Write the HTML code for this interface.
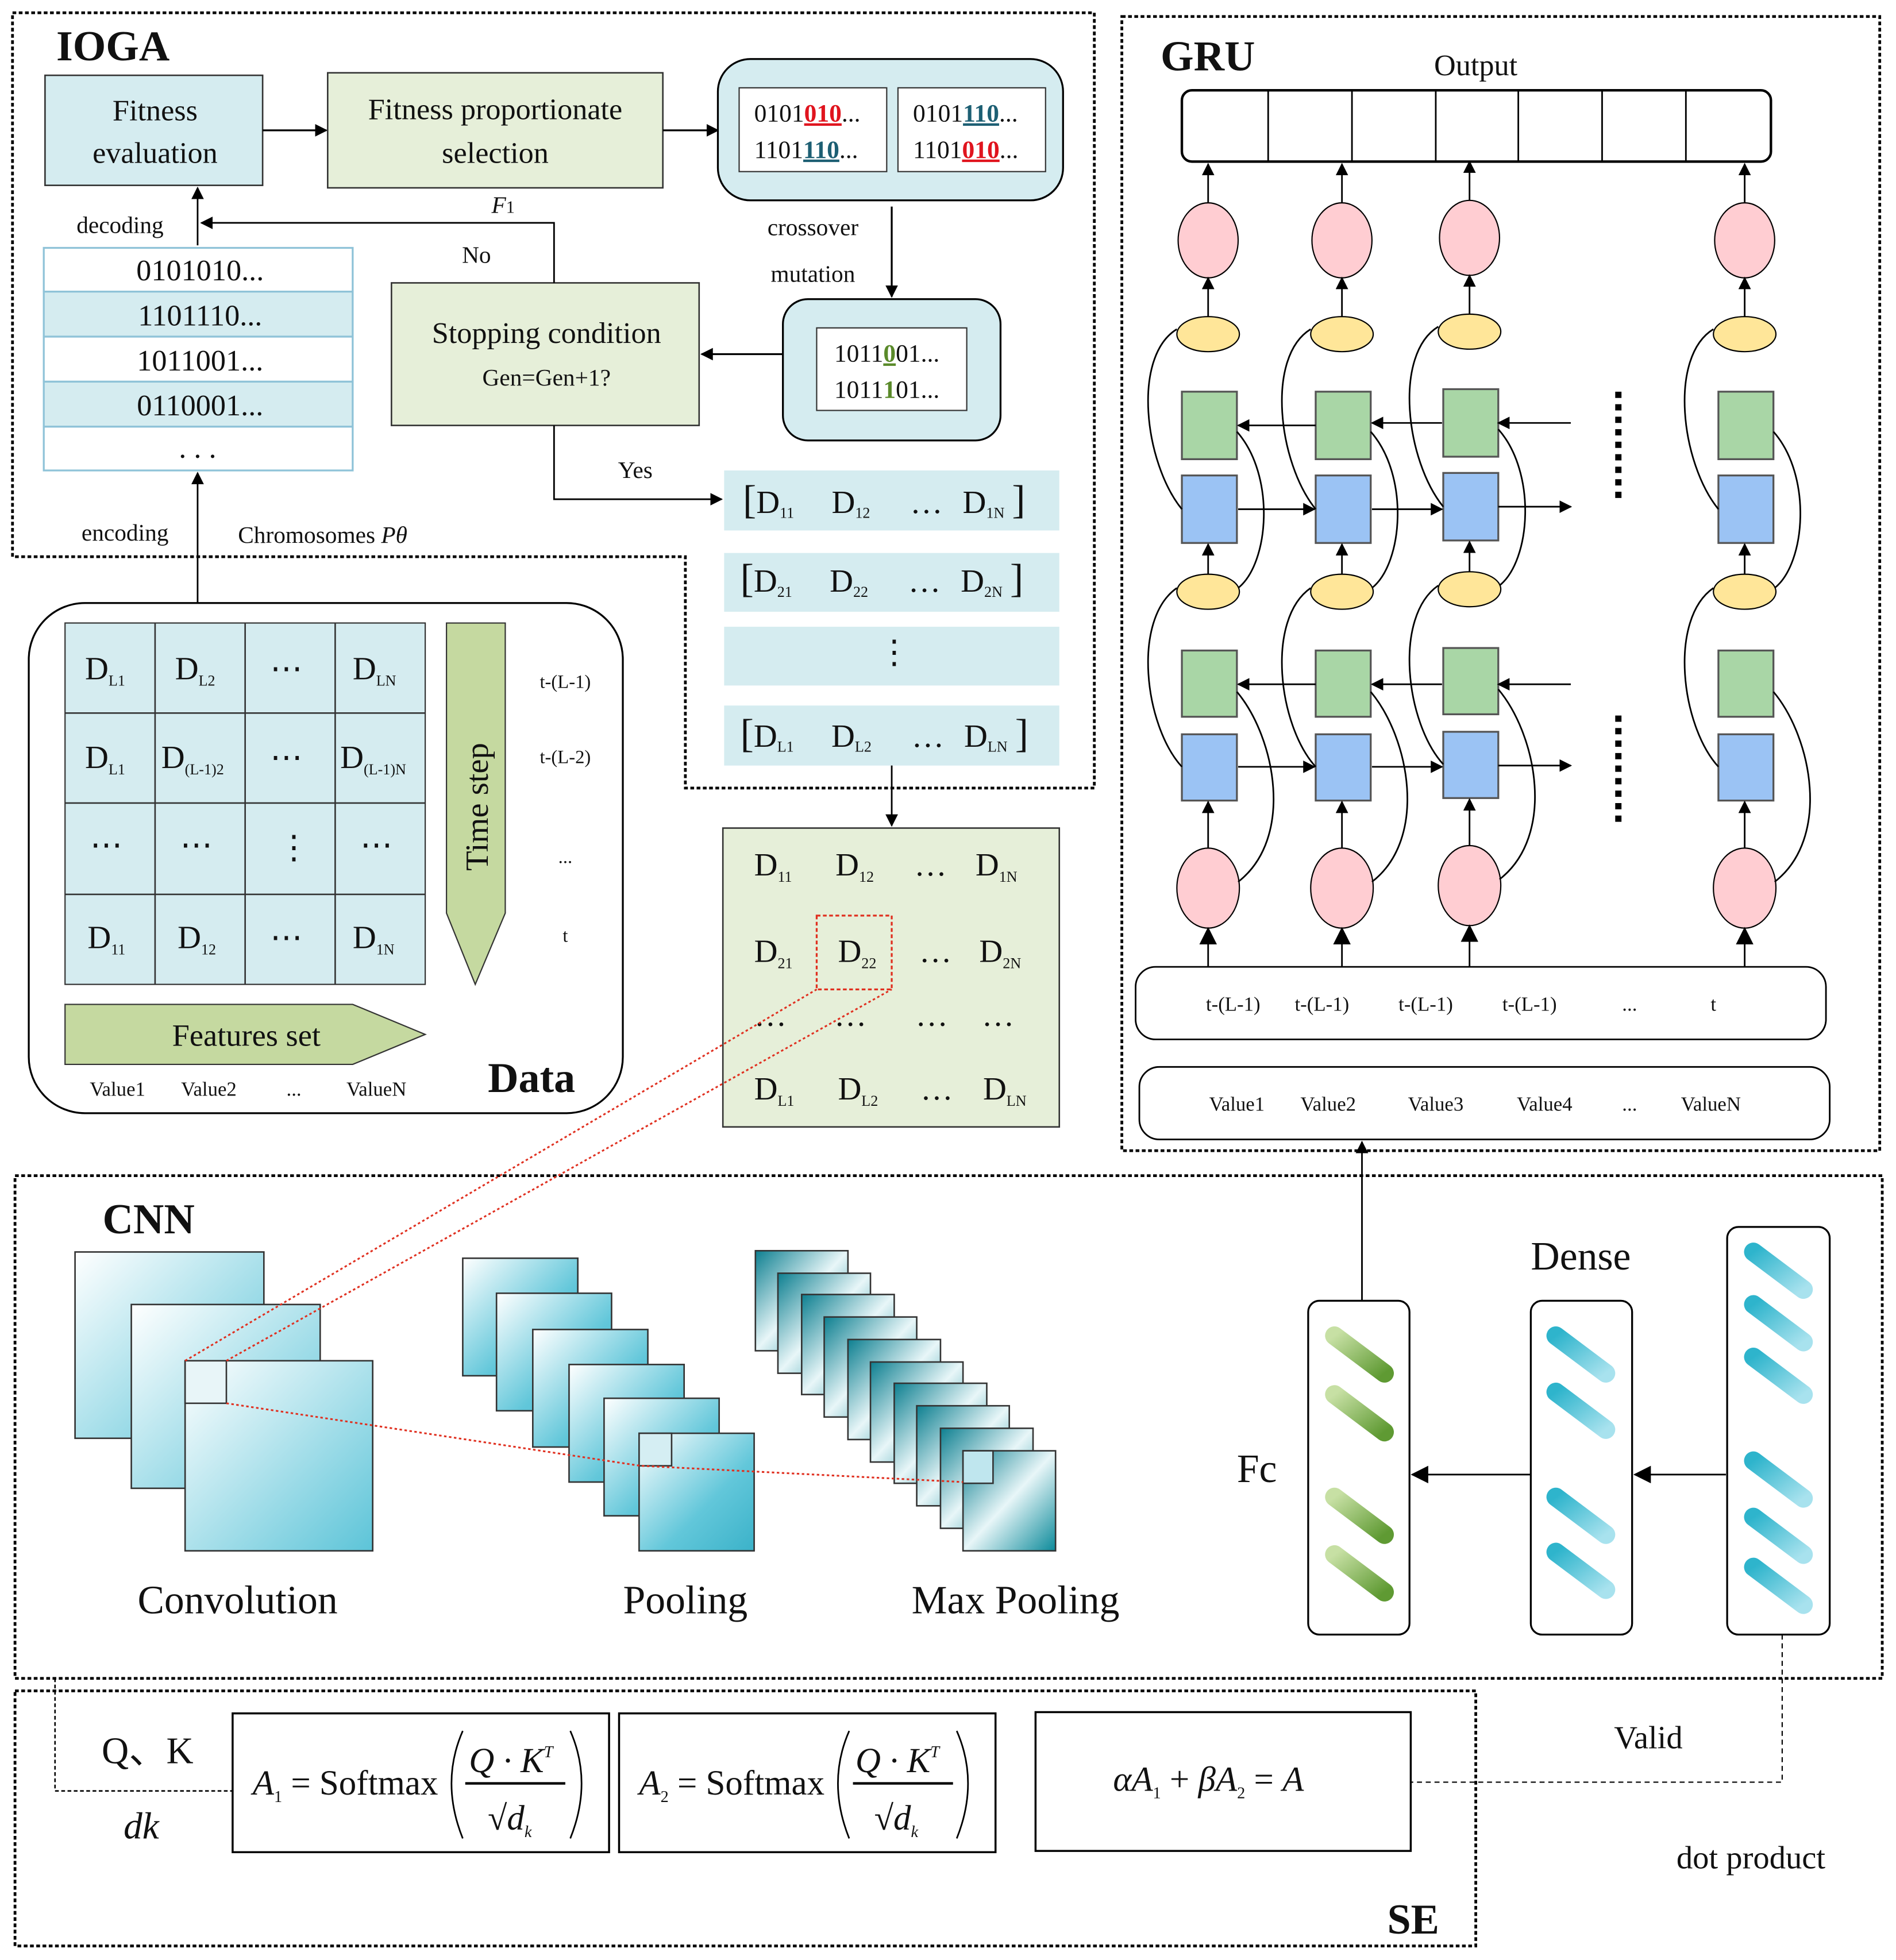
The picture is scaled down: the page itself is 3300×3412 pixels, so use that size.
<!DOCTYPE html>
<html><head><meta charset="utf-8"><style>
html,body{margin:0;padding:0;background:#fff;}
svg{display:block;}
text{font-family:"Liberation Serif",serif;fill:#111;}
</style></head><body>
<svg width="3300" height="3412" viewBox="0 0 1516 1567" xmlns="http://www.w3.org/2000/svg">
<defs>
<marker id="ar" markerWidth="10" markerHeight="10" refX="9" refY="5" orient="auto" markerUnits="userSpaceOnUse"><path d="M0,0 L10,5 L0,10 Z" fill="#000"/></marker>
<marker id="arB" markerWidth="14" markerHeight="14" refX="13" refY="7" orient="auto" markerUnits="userSpaceOnUse"><path d="M0,0 L14,7 L0,14 Z" fill="#000"/></marker>
<linearGradient id="gc" x1="0" y1="0" x2="1" y2="1"><stop offset="0" stop-color="#fff"/><stop offset="1" stop-color="#5cc4d8"/></linearGradient>
<linearGradient id="gp" x1="0" y1="0" x2="1" y2="1"><stop offset="0" stop-color="#fff"/><stop offset="0.6" stop-color="#62c7da"/><stop offset="1" stop-color="#3bb2c9"/></linearGradient>
<linearGradient id="gm" x1="0" y1="0" x2="1" y2="1"><stop offset="0" stop-color="#0d7f90"/><stop offset="0.5" stop-color="#e8f6f8"/><stop offset="1" stop-color="#0b8a9a"/></linearGradient>
<linearGradient id="pg" x1="0" y1="0" x2="1" y2="1"><stop offset="0" stop-color="#c7e0a4"/><stop offset="1" stop-color="#5f9a33"/></linearGradient>
<linearGradient id="pb" x1="0" y1="0" x2="1" y2="1"><stop offset="0" stop-color="#2eb4cc"/><stop offset="1" stop-color="#a8e2ee"/></linearGradient>
</defs>

<g fill="none" stroke="#000" stroke-width="2.2" stroke-dasharray="3,2">
<path d="M10,10 H875 V630 H548 V445 H10 Z"/>
<rect x="897" y="13" width="606" height="907"/>
<rect x="12" y="940" width="1493" height="402"/>
<rect x="12" y="1352" width="1168" height="204"/>
</g>

<text x="45" y="48" font-size="34" font-weight="bold">IOGA</text>
<rect x="36" y="60" width="174" height="88" fill="#d5ecf0" stroke="#333" stroke-width="1.2"/>
<text x="124" y="96" font-size="24" text-anchor="middle">Fitness</text>
<text x="124" y="130" font-size="24" text-anchor="middle">evaluation</text>
<line x1="210" y1="104" x2="261" y2="104" stroke="#000" stroke-width="1.5" marker-end="url(#ar)"/>
<rect x="262" y="58" width="268" height="92" fill="#e6efd9" stroke="#333" stroke-width="1.2"/>
<text x="396" y="95" font-size="24" text-anchor="middle">Fitness proportionate</text>
<text x="396" y="130" font-size="24" text-anchor="middle">selection</text>
<line x1="530" y1="104" x2="574" y2="104" stroke="#000" stroke-width="1.5" marker-end="url(#ar)"/>
<rect x="574" y="47" width="276" height="113" rx="26" fill="#d5ecf0" stroke="#000" stroke-width="1.5"/>
<rect x="591" y="70" width="118" height="67" fill="#fff" stroke="#333"/>
<rect x="718" y="70" width="118" height="67" fill="#fff" stroke="#333"/>
<text x="603" y="97" font-size="20">0101<tspan fill="#e0141e" font-weight="bold" text-decoration="underline">010</tspan>...</text>
<text x="603" y="126" font-size="20">1101<tspan fill="#1d5f73" font-weight="bold" text-decoration="underline">110</tspan>...</text>
<text x="730" y="97" font-size="20">0101<tspan fill="#1d5f73" font-weight="bold" text-decoration="underline">110</tspan>...</text>
<text x="730" y="126" font-size="20">1101<tspan fill="#e0141e" font-weight="bold" text-decoration="underline">010</tspan>...</text>
<text x="650" y="188" font-size="19" text-anchor="middle">crossover</text>
<text x="650" y="225" font-size="19" text-anchor="middle">mutation</text>
<line x1="713" y1="165" x2="713" y2="237" stroke="#000" stroke-width="1.5" marker-end="url(#ar)"/>
<rect x="626" y="239" width="174" height="113" rx="20" fill="#d5ecf0" stroke="#000" stroke-width="1.5"/>
<rect x="653" y="262" width="120" height="66" fill="#fff" stroke="#333"/>
<text x="667" y="289" font-size="20">1011<tspan fill="#5a8a2a" font-weight="bold" text-decoration="underline">0</tspan>01...</text>
<text x="667" y="318" font-size="20">1011<tspan fill="#5a8a2a" font-weight="bold">1</tspan>01...</text>
<line x1="626" y1="283" x2="561" y2="283" stroke="#000" stroke-width="1.5" marker-end="url(#ar)"/>
<rect x="313" y="226" width="246" height="114" fill="#e6efd9" stroke="#333" stroke-width="1.2"/>
<text x="437" y="274" font-size="24" text-anchor="middle">Stopping condition</text>
<text x="437" y="308" font-size="19" text-anchor="middle">Gen=Gen+1?</text>
<polyline points="443,226 443,178 161,178" fill="none" stroke="#000" stroke-width="1.3" marker-end="url(#ar)"/>
<text x="393" y="170" font-size="19" font-style="italic">F<tspan font-size="14" font-style="normal">1</tspan></text>
<text x="381" y="210" font-size="19" text-anchor="middle">No</text>
<line x1="158" y1="196" x2="158" y2="150" stroke="#000" stroke-width="1.3" marker-end="url(#ar)"/>
<text x="96" y="186" font-size="19" text-anchor="middle">decoding</text>
<g stroke="#8fc3d8" stroke-width="1.5">
<rect x="35" y="198" width="247" height="35" fill="#fff"/>
<rect x="35" y="233" width="247" height="36" fill="#d5ecf0"/>
<rect x="35" y="269" width="247" height="36" fill="#fff"/>
<rect x="35" y="305" width="247" height="36" fill="#d5ecf0"/>
<rect x="35" y="341" width="247" height="35" fill="#fff"/>
</g>
<g font-size="24" text-anchor="middle">
<text x="160" y="224">0101010...</text>
<text x="160" y="260">1101110...</text>
<text x="160" y="296">1011001...</text>
<text x="160" y="332">0110001...</text>
<text x="158" y="366">. . .</text>
</g>
<line x1="158" y1="482" x2="158" y2="378" stroke="#000" stroke-width="1.3" marker-end="url(#ar)"/>
<text x="100" y="432" font-size="19" text-anchor="middle">encoding</text>
<text x="258" y="434" font-size="19" text-anchor="middle">Chromosomes <tspan font-style="italic">Pθ</tspan></text>
<polyline points="443,340 443,399 577,399" fill="none" stroke="#000" stroke-width="1.3" marker-end="url(#ar)"/>
<text x="508" y="382" font-size="19" text-anchor="middle">Yes</text>
<g fill="#d5ecf0">
<rect x="579" y="376" width="268" height="48"/>
<rect x="579" y="442" width="268" height="47"/>
<rect x="579" y="501" width="268" height="47"/>
<rect x="579" y="564" width="268" height="48"/>
</g>
<g font-size="26">
<text x="594" y="410"><tspan font-size="32">[</tspan>D<tspan font-size="12" dy="4">11</tspan><tspan dy="-4" dx="30">D</tspan><tspan font-size="12" dy="4">12</tspan><tspan dy="-4" dx="32">…</tspan><tspan dx="16">D</tspan><tspan font-size="12" dy="4">1N</tspan><tspan dy="-4" dx="6" font-size="32">]</tspan></text>
<text x="592" y="473"><tspan font-size="32">[</tspan>D<tspan font-size="12" dy="4">21</tspan><tspan dy="-4" dx="30">D</tspan><tspan font-size="12" dy="4">22</tspan><tspan dy="-4" dx="32">…</tspan><tspan dx="16">D</tspan><tspan font-size="12" dy="4">2N</tspan><tspan dy="-4" dx="6" font-size="32">]</tspan></text>
<text x="715" y="530" text-anchor="middle">⋮</text>
<text x="592" y="597"><tspan font-size="32">[</tspan>D<tspan font-size="12" dy="4">L1</tspan><tspan dy="-4" dx="30">D</tspan><tspan font-size="12" dy="4">L2</tspan><tspan dy="-4" dx="32">…</tspan><tspan dx="16">D</tspan><tspan font-size="12" dy="4">LN</tspan><tspan dy="-4" dx="6" font-size="32">]</tspan></text>
</g>
<line x1="713" y1="612" x2="713" y2="660" stroke="#000" stroke-width="1.3" marker-end="url(#ar)"/>

<rect x="578" y="662" width="269" height="239" fill="#e6efd9" stroke="#333" stroke-width="1.2"/>
<g font-size="26">
<text x="603" y="700">D<tspan font-size="12" dy="5">11</tspan></text>
<text x="668" y="700">D<tspan font-size="12" dy="5">12</tspan></text>
<text x="731" y="700">…</text>
<text x="780" y="700">D<tspan font-size="12" dy="5">1N</tspan></text>
<text x="603" y="769">D<tspan font-size="12" dy="5">21</tspan></text>
<text x="670" y="769">D<tspan font-size="12" dy="5">22</tspan></text>
<text x="735" y="769">…</text>
<text x="783" y="769">D<tspan font-size="12" dy="5">2N</tspan></text>
<text x="603" y="820">…</text><text x="667" y="820">…</text><text x="732" y="820">…</text><text x="785" y="820">…</text>
<text x="603" y="879">D<tspan font-size="12" dy="5">L1</tspan></text>
<text x="670" y="879">D<tspan font-size="12" dy="5">L2</tspan></text>
<text x="736" y="879">…</text>
<text x="786" y="879">D<tspan font-size="12" dy="5">LN</tspan></text>
</g>
<rect x="653" y="732" width="60" height="59" fill="none" stroke="#e03020" stroke-width="1.5" stroke-dasharray="3,2"/>

<rect x="23" y="482" width="475" height="408" rx="45" fill="#fff" stroke="#000" stroke-width="1.5"/>
<rect x="52" y="498" width="288" height="289" fill="#d5ecf0" stroke="#333"/>
<g stroke="#333" stroke-width="1.2">
<line x1="124" y1="498" x2="124" y2="787"/><line x1="196" y1="498" x2="196" y2="787"/><line x1="268" y1="498" x2="268" y2="787"/>
<line x1="52" y1="570" x2="340" y2="570"/><line x1="52" y1="642" x2="340" y2="642"/><line x1="52" y1="715" x2="340" y2="715"/>
</g>
<g font-size="26">
<text x="68" y="543">D<tspan font-size="12" dy="5">L1</tspan></text>
<text x="140" y="543">D<tspan font-size="12" dy="5">L2</tspan></text>
<text x="216" y="543">⋯</text>
<text x="282" y="543">D<tspan font-size="12" dy="5">LN</tspan></text>
<text x="68" y="614">D<tspan font-size="12" dy="5">L1</tspan></text>
<text x="129" y="614">D<tspan font-size="12" dy="5">(L-1)2</tspan></text>
<text x="216" y="614">⋯</text>
<text x="272" y="614">D<tspan font-size="12" dy="5">(L-1)N</tspan></text>
<text x="72" y="684">⋯</text><text x="144" y="684">⋯</text><text x="222" y="686">⋮</text><text x="288" y="684">⋯</text>
<text x="70" y="758">D<tspan font-size="12" dy="5">11</tspan></text>
<text x="142" y="758">D<tspan font-size="12" dy="5">12</tspan></text>
<text x="216" y="758">⋯</text>
<text x="282" y="758">D<tspan font-size="12" dy="5">1N</tspan></text>
</g>
<polygon points="357,498 404,498 404,730 380,787 357,730" fill="#c5d9a0" stroke="#333"/>
<text transform="translate(390,645) rotate(-90)" font-size="26" text-anchor="middle">Time step</text>
<g font-size="15" text-anchor="middle">
<text x="452" y="550">t-(L-1)</text><text x="452" y="610">t-(L-2)</text><text x="452" y="690">...</text><text x="452" y="753">t</text>
</g>
<polygon points="52,803 282,803 340,827 282,851 52,851" fill="#c5d9a0" stroke="#333"/>
<text x="197" y="836" font-size="25" text-anchor="middle">Features set</text>
<g font-size="16" text-anchor="middle">
<text x="94" y="876">Value1</text><text x="167" y="876">Value2</text><text x="235" y="876">...</text><text x="301" y="876">ValueN</text>
</g>
<text x="425" y="873" font-size="34" font-weight="bold" text-anchor="middle">Data</text>

<text x="928" y="56" font-size="34" font-weight="bold">GRU</text>
<text x="1180" y="60" font-size="24" text-anchor="middle">Output</text>
<rect x="945" y="72" width="471" height="57" rx="8" fill="#fff" stroke="#000" stroke-width="2"/>
<g stroke="#000" stroke-width="1.3">
<line x1="1014" y1="72" x2="1014" y2="129"/><line x1="1081" y1="72" x2="1081" y2="129"/><line x1="1148" y1="72" x2="1148" y2="129"/><line x1="1214" y1="72" x2="1214" y2="129"/><line x1="1281" y1="72" x2="1281" y2="129"/><line x1="1348" y1="72" x2="1348" y2="129"/>
</g>
<g>
<g transform="translate(0,0)">
<line x1="966" y1="162" x2="966" y2="131" stroke="#000" stroke-width="1.3" marker-end="url(#ar)"/>
<ellipse cx="966" cy="192" rx="24" ry="30" fill="#ffcdd2" stroke="#000"/>
<line x1="966" y1="253" x2="966" y2="222" stroke="#000" stroke-width="1.3" marker-end="url(#ar)"/>
<ellipse cx="966" cy="267" rx="25" ry="14" fill="#ffe699" stroke="#000"/>
<rect x="945" y="313" width="44" height="54" fill="#a9d6a6" stroke="#555" stroke-width="1.5"/>
<rect x="945" y="380" width="44" height="54" fill="#9bc3f4" stroke="#555" stroke-width="1.5"/>
<line x1="966" y1="459" x2="966" y2="435" stroke="#000" stroke-width="1.3" marker-end="url(#ar)"/>
<ellipse cx="966" cy="473" rx="25" ry="14" fill="#ffe699" stroke="#000"/>
<rect x="945" y="520" width="44" height="53" fill="#a9d6a6" stroke="#555" stroke-width="1.5"/>
<rect x="945" y="587" width="44" height="53" fill="#9bc3f4" stroke="#555" stroke-width="1.5"/>
<line x1="966" y1="678" x2="966" y2="641" stroke="#000" stroke-width="1.3" marker-end="url(#ar)"/>
<ellipse cx="966" cy="710" rx="25" ry="32" fill="#ffcdd2" stroke="#000"/>
<line x1="966" y1="773" x2="966" y2="742" stroke="#000" stroke-width="1.3" marker-end="url(#arB)"/>
<g fill="none" stroke="#000" stroke-width="1.3">
<path d="M941,263 C905,285 915,370 945,407"/>
<path d="M989,345 C1020,380 1015,450 990,470"/>
<path d="M941,470 C905,495 915,580 945,613"/>
<path d="M989,553 C1020,590 1035,670 990,705"/>
</g>
</g>
<g transform="translate(107,0)">
<line x1="966" y1="162" x2="966" y2="131" stroke="#000" stroke-width="1.3" marker-end="url(#ar)"/>
<ellipse cx="966" cy="192" rx="24" ry="30" fill="#ffcdd2" stroke="#000"/>
<line x1="966" y1="253" x2="966" y2="222" stroke="#000" stroke-width="1.3" marker-end="url(#ar)"/>
<ellipse cx="966" cy="267" rx="25" ry="14" fill="#ffe699" stroke="#000"/>
<rect x="945" y="313" width="44" height="54" fill="#a9d6a6" stroke="#555" stroke-width="1.5"/>
<rect x="945" y="380" width="44" height="54" fill="#9bc3f4" stroke="#555" stroke-width="1.5"/>
<line x1="966" y1="459" x2="966" y2="435" stroke="#000" stroke-width="1.3" marker-end="url(#ar)"/>
<ellipse cx="966" cy="473" rx="25" ry="14" fill="#ffe699" stroke="#000"/>
<rect x="945" y="520" width="44" height="53" fill="#a9d6a6" stroke="#555" stroke-width="1.5"/>
<rect x="945" y="587" width="44" height="53" fill="#9bc3f4" stroke="#555" stroke-width="1.5"/>
<line x1="966" y1="678" x2="966" y2="641" stroke="#000" stroke-width="1.3" marker-end="url(#ar)"/>
<ellipse cx="966" cy="710" rx="25" ry="32" fill="#ffcdd2" stroke="#000"/>
<line x1="966" y1="773" x2="966" y2="742" stroke="#000" stroke-width="1.3" marker-end="url(#arB)"/>
<g fill="none" stroke="#000" stroke-width="1.3">
<path d="M941,263 C905,285 915,370 945,407"/>
<path d="M989,345 C1020,380 1015,450 990,470"/>
<path d="M941,470 C905,495 915,580 945,613"/>
<path d="M989,553 C1020,590 1035,670 990,705"/>
</g>
</g>
<g transform="translate(209,-2)">
<line x1="966" y1="162" x2="966" y2="131" stroke="#000" stroke-width="1.3" marker-end="url(#ar)"/>
<ellipse cx="966" cy="192" rx="24" ry="30" fill="#ffcdd2" stroke="#000"/>
<line x1="966" y1="253" x2="966" y2="222" stroke="#000" stroke-width="1.3" marker-end="url(#ar)"/>
<ellipse cx="966" cy="267" rx="25" ry="14" fill="#ffe699" stroke="#000"/>
<rect x="945" y="313" width="44" height="54" fill="#a9d6a6" stroke="#555" stroke-width="1.5"/>
<rect x="945" y="380" width="44" height="54" fill="#9bc3f4" stroke="#555" stroke-width="1.5"/>
<line x1="966" y1="459" x2="966" y2="435" stroke="#000" stroke-width="1.3" marker-end="url(#ar)"/>
<ellipse cx="966" cy="473" rx="25" ry="14" fill="#ffe699" stroke="#000"/>
<rect x="945" y="520" width="44" height="53" fill="#a9d6a6" stroke="#555" stroke-width="1.5"/>
<rect x="945" y="587" width="44" height="53" fill="#9bc3f4" stroke="#555" stroke-width="1.5"/>
<line x1="966" y1="678" x2="966" y2="641" stroke="#000" stroke-width="1.3" marker-end="url(#ar)"/>
<ellipse cx="966" cy="710" rx="25" ry="32" fill="#ffcdd2" stroke="#000"/>
<line x1="966" y1="775" x2="966" y2="742" stroke="#000" stroke-width="1.3" marker-end="url(#arB)"/>
<g fill="none" stroke="#000" stroke-width="1.3">
<path d="M941,263 C905,285 915,370 945,407"/>
<path d="M989,345 C1020,380 1015,450 990,470"/>
<path d="M941,470 C905,495 915,580 945,613"/>
<path d="M989,553 C1020,590 1035,670 990,705"/>
</g>
</g>
<g transform="translate(429,0)">
<line x1="966" y1="162" x2="966" y2="131" stroke="#000" stroke-width="1.3" marker-end="url(#ar)"/>
<ellipse cx="966" cy="192" rx="24" ry="30" fill="#ffcdd2" stroke="#000"/>
<line x1="966" y1="253" x2="966" y2="222" stroke="#000" stroke-width="1.3" marker-end="url(#ar)"/>
<ellipse cx="966" cy="267" rx="25" ry="14" fill="#ffe699" stroke="#000"/>
<rect x="945" y="313" width="44" height="54" fill="#a9d6a6" stroke="#555" stroke-width="1.5"/>
<rect x="945" y="380" width="44" height="54" fill="#9bc3f4" stroke="#555" stroke-width="1.5"/>
<line x1="966" y1="459" x2="966" y2="435" stroke="#000" stroke-width="1.3" marker-end="url(#ar)"/>
<ellipse cx="966" cy="473" rx="25" ry="14" fill="#ffe699" stroke="#000"/>
<rect x="945" y="520" width="44" height="53" fill="#a9d6a6" stroke="#555" stroke-width="1.5"/>
<rect x="945" y="587" width="44" height="53" fill="#9bc3f4" stroke="#555" stroke-width="1.5"/>
<line x1="966" y1="678" x2="966" y2="641" stroke="#000" stroke-width="1.3" marker-end="url(#ar)"/>
<ellipse cx="966" cy="710" rx="25" ry="32" fill="#ffcdd2" stroke="#000"/>
<line x1="966" y1="773" x2="966" y2="742" stroke="#000" stroke-width="1.3" marker-end="url(#arB)"/>
<g fill="none" stroke="#000" stroke-width="1.3">
<path d="M941,263 C905,285 915,370 945,407"/>
<path d="M989,345 C1020,380 1015,450 990,470"/>
<path d="M941,470 C905,495 915,580 945,613"/>
<path d="M989,553 C1020,590 1035,670 990,705"/>
</g>
</g>
</g>
<g stroke="#000" stroke-width="1.3">
<line x1="1052" y1="340" x2="990" y2="340" marker-end="url(#ar)"/>
<line x1="1153" y1="338" x2="1097" y2="338" marker-end="url(#ar)"/>
<line x1="1256" y1="338" x2="1198" y2="338" marker-end="url(#ar)"/>
<line x1="990" y1="407" x2="1051" y2="407" marker-end="url(#ar)"/>
<line x1="1097" y1="407" x2="1153" y2="407" marker-end="url(#ar)"/>
<line x1="1198" y1="405" x2="1256" y2="405" marker-end="url(#ar)"/>
<line x1="1052" y1="547" x2="990" y2="547" marker-end="url(#ar)"/>
<line x1="1153" y1="547" x2="1097" y2="547" marker-end="url(#ar)"/>
<line x1="1256" y1="547" x2="1198" y2="547" marker-end="url(#ar)"/>
<line x1="990" y1="613" x2="1051" y2="613" marker-end="url(#ar)"/>
<line x1="1097" y1="613" x2="1153" y2="613" marker-end="url(#ar)"/>
<line x1="1198" y1="612" x2="1256" y2="612" marker-end="url(#ar)"/>
</g>
<g stroke="#000" stroke-width="5" stroke-dasharray="5,5">
<line x1="1294" y1="313" x2="1294" y2="398"/>
<line x1="1294" y1="572" x2="1294" y2="658"/>
</g>
<rect x="908" y="773" width="552" height="58" rx="16" fill="#fff" stroke="#000" stroke-width="1.3"/>
<g font-size="16" text-anchor="middle">
<text x="986" y="808">t-(L-1)</text><text x="1057" y="808">t-(L-1)</text><text x="1140" y="808">t-(L-1)</text><text x="1223" y="808">t-(L-1)</text><text x="1303" y="808">...</text><text x="1370" y="808">t</text>
</g>
<rect x="911" y="853" width="552" height="58" rx="16" fill="#fff" stroke="#000" stroke-width="1.3"/>
<g font-size="16" text-anchor="middle">
<text x="989" y="888">Value1</text><text x="1062" y="888">Value2</text><text x="1148" y="888">Value3</text><text x="1235" y="888">Value4</text><text x="1303" y="888">...</text><text x="1368" y="888">ValueN</text>
</g>
<line x1="1089" y1="1040" x2="1089" y2="913" stroke="#000" stroke-width="1.3" marker-end="url(#ar)"/>

<text x="82" y="986" font-size="34" font-weight="bold">CNN</text>
<g stroke="#333" stroke-width="1.2">
<rect x="60" y="1001" width="151" height="149" fill="url(#gc)"/>
<rect x="105" y="1043" width="151" height="147" fill="url(#gc)"/>
<rect x="148" y="1088" width="150" height="152" fill="url(#gc)"/>
<rect x="148" y="1088" width="33" height="34" fill="#e8f5f8"/>
</g>
<g stroke="#333" stroke-width="1.2">
<rect x="370" y="1006" width="92" height="94" fill="url(#gp)"/>
<rect x="397" y="1034" width="92" height="94" fill="url(#gp)"/>
<rect x="426" y="1063" width="92" height="94" fill="url(#gp)"/>
<rect x="455" y="1091" width="92" height="94" fill="url(#gp)"/>
<rect x="483" y="1118" width="92" height="94" fill="url(#gp)"/>
<rect x="511" y="1146" width="92" height="94" fill="url(#gp)"/>
<rect x="511" y="1146" width="26" height="26" fill="#d5eef3"/>
</g>
<g stroke="#333" stroke-width="1.2" fill="url(#gm)">
<rect x="604" y="1000" width="74" height="80"/>
<rect x="622" y="1018" width="74" height="80"/>
<rect x="641" y="1035" width="74" height="80"/>
<rect x="659" y="1053" width="74" height="80"/>
<rect x="678" y="1071" width="74" height="80"/>
<rect x="696" y="1089" width="74" height="80"/>
<rect x="715" y="1106" width="74" height="80"/>
<rect x="733" y="1124" width="74" height="80"/>
<rect x="752" y="1142" width="74" height="80"/>
<rect x="770" y="1160" width="74" height="80"/>
<rect x="770" y="1160" width="24" height="26" fill="#bfe6ee"/>
</g>
<g stroke="#e03020" stroke-width="1.4" stroke-dasharray="2,2" fill="none">
<line x1="148" y1="1088" x2="653" y2="791"/>
<line x1="181" y1="1088" x2="713" y2="791"/>
<polyline points="181,1122 512,1172 770,1185"/>
</g>
<g font-size="32" text-anchor="middle">
<text x="190" y="1290">Convolution</text><text x="548" y="1290">Pooling</text><text x="812" y="1290">Max Pooling</text>
</g>
<rect x="1046" y="1040" width="81" height="267" rx="9" fill="#fff" stroke="#000" stroke-width="1.5"/>
<rect x="1224" y="1040" width="81" height="267" rx="9" fill="#fff" stroke="#000" stroke-width="1.5"/>
<rect x="1381" y="981" width="82" height="326" rx="9" fill="#fff" stroke="#000" stroke-width="1.5"/>
<g stroke-width="15" stroke-linecap="round">
<g stroke="url(#pg)">
<line x1="1067" y1="1068" x2="1107" y2="1098"/><line x1="1067" y1="1115" x2="1107" y2="1145"/>
<line x1="1067" y1="1197" x2="1107" y2="1227"/><line x1="1067" y1="1243" x2="1107" y2="1273"/>
</g>
<g stroke="url(#pb)">
<line x1="1244" y1="1068" x2="1284" y2="1098"/><line x1="1244" y1="1113" x2="1284" y2="1143"/>
<line x1="1244" y1="1197" x2="1284" y2="1227"/><line x1="1244" y1="1241" x2="1284" y2="1271"/>
<line x1="1402" y1="1001" x2="1442" y2="1031"/><line x1="1402" y1="1043" x2="1442" y2="1073"/>
<line x1="1402" y1="1085" x2="1442" y2="1115"/><line x1="1402" y1="1168" x2="1442" y2="1198"/>
<line x1="1402" y1="1213" x2="1442" y2="1243"/><line x1="1402" y1="1253" x2="1442" y2="1283"/>
</g>
</g>
<text x="1264" y="1015" font-size="32" text-anchor="middle">Dense</text>
<text x="1005" y="1185" font-size="32" text-anchor="middle">Fc</text>
<line x1="1380" y1="1179" x2="1307" y2="1179" stroke="#000" stroke-width="1.3" marker-end="url(#arB)"/>
<line x1="1224" y1="1179" x2="1129" y2="1179" stroke="#000" stroke-width="1.3" marker-end="url(#arB)"/>
<polyline points="1425,1307 1425,1425 1128,1425" fill="none" stroke="#000" stroke-width="1" stroke-dasharray="4,3"/>
<text x="1318" y="1398" font-size="26" text-anchor="middle">Valid</text>
<text x="1400" y="1494" font-size="26" text-anchor="middle">dot product</text>

<polyline points="44,1342 44,1432 186,1432" fill="none" stroke="#000" stroke-width="1.2" stroke-dasharray="3,2"/>
<text x="118" y="1410" font-size="30" text-anchor="middle">Q、K</text>
<text x="113" y="1470" font-size="30" font-style="italic" text-anchor="middle">dk</text>
<text x="1130" y="1546" font-size="34" font-weight="bold" text-anchor="middle">SE</text>
<g stroke="#000" stroke-width="1.6" fill="#fff">
<rect x="186" y="1370" width="301" height="111"/>
<rect x="495" y="1370" width="301" height="111"/>
<rect x="828" y="1369" width="300" height="111"/>
</g>
<g font-size="28">
<text x="202" y="1435"><tspan font-style="italic">A</tspan><tspan font-size="13" dy="6">1</tspan><tspan dy="-6"> = Softmax</tspan></text>
<text x="511" y="1435"><tspan font-style="italic">A</tspan><tspan font-size="13" dy="6">2</tspan><tspan dy="-6"> = Softmax</tspan></text>
<text x="375" y="1417" font-style="italic">Q · K<tspan font-size="13" dy="-12">T</tspan></text>
<text x="684" y="1417" font-style="italic">Q · K<tspan font-size="13" dy="-12">T</tspan></text>
<text x="390" y="1463">√<tspan font-style="italic">d</tspan><tspan font-size="13" dy="6" font-style="italic">k</tspan></text>
<text x="699" y="1463">√<tspan font-style="italic">d</tspan><tspan font-size="13" dy="6" font-style="italic">k</tspan></text>
<text x="890" y="1432" font-style="italic">αA<tspan font-size="13" dy="6" font-style="normal">1</tspan><tspan dy="-6" font-style="normal"> + </tspan>βA<tspan font-size="13" dy="6" font-style="normal">2</tspan><tspan dy="-6" font-style="normal"> = </tspan>A</text>
</g>
<g stroke="#000" fill="none" stroke-width="1.3">
<line x1="372" y1="1426" x2="452" y2="1426" stroke-width="2"/>
<line x1="682" y1="1426" x2="762" y2="1426" stroke-width="2"/>
<path d="M370,1384 Q352,1425 370,1470"/><path d="M456,1384 Q474,1425 456,1470"/>
<path d="M679,1384 Q661,1425 679,1470"/><path d="M765,1384 Q783,1425 765,1470"/>
</g>
</svg>
</body></html>
